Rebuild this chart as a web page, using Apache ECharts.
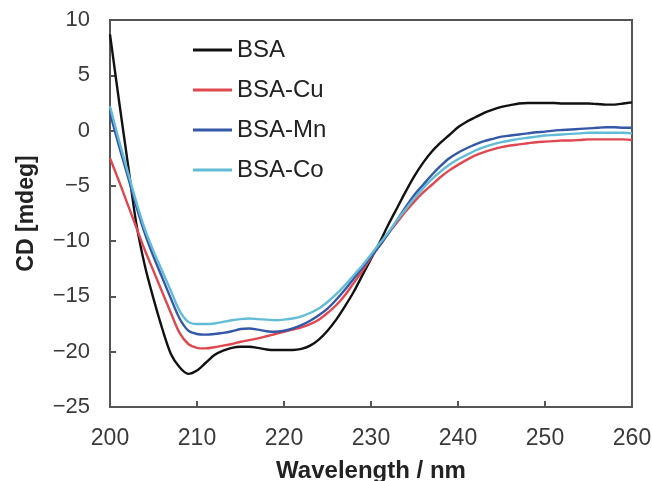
<!DOCTYPE html>
<html>
<head>
<meta charset="utf-8">
<script src="https://cdn.jsdelivr.net/npm/echarts@6/dist/echarts.min.js"></script>
<style>
  html, body { margin: 0; padding: 0; background: #fff; }
  #chart { width: 652px; height: 481px; }
</style>
</head>
<body>
<div id="chart"></div>
<script>
// Wavelength grid (nm), one reading per nanometre
const wavelengths = [];
for (let w = 200; w <= 260; w++) wavelengths.push(w);

const seriesNames = ['BSA', 'BSA-Cu', 'BSA-Mn', 'BSA-Co'];

// CD signal (mdeg) for each sample, 200-260 nm
const cdBSA = [
  8.7, 2.9, -2.7, -8.3, -12.2, -15.2, -17.9, -20.2, -21.4, -22.0,
  -21.7, -21.0, -20.3, -19.9, -19.65, -19.55, -19.55, -19.65, -19.8, -19.85,
  -19.85, -19.85, -19.75, -19.45, -18.9, -18.1, -17.1, -15.9, -14.6, -13.1,
  -11.6, -10.1, -8.5, -7.0, -5.5, -4.1, -2.9, -1.9, -1.1, -0.4,
  0.3, 0.8, 1.2, 1.6, 1.9, 2.15, 2.3, 2.45, 2.5, 2.5,
  2.5, 2.5, 2.45, 2.45, 2.45, 2.45, 2.4, 2.35, 2.35, 2.45,
  2.55
];
const cdCu = [
  -2.5, -4.5, -6.6, -8.7, -10.8, -12.7, -14.6, -16.5, -18.3, -19.3,
  -19.65, -19.7, -19.6, -19.45, -19.3, -19.1, -18.95, -18.8, -18.6, -18.4,
  -18.2, -18.0, -17.8, -17.5, -17.1, -16.5, -15.8, -14.9, -13.8, -12.7,
  -11.5, -10.4, -9.3, -8.3, -7.3, -6.4, -5.6, -4.9, -4.2, -3.6,
  -3.1, -2.65, -2.25, -1.95, -1.7, -1.5, -1.35, -1.25, -1.15, -1.05,
  -1.0, -0.95, -0.9, -0.9, -0.85, -0.8, -0.8, -0.8, -0.8, -0.8,
  -0.85
];
const cdMn = [
  1.6, -1.3, -4.0, -6.8, -9.3, -11.4, -13.3, -15.2, -17.0, -18.1,
  -18.4, -18.45, -18.4, -18.3, -18.15, -17.95, -17.9, -18.0, -18.15, -18.2,
  -18.1, -17.9, -17.6, -17.2, -16.7, -16.1, -15.3, -14.4, -13.4, -12.4,
  -11.4, -10.4, -9.3, -8.1, -6.9, -5.8, -4.9, -4.0, -3.2, -2.5,
  -2.0, -1.6, -1.25, -0.95, -0.75, -0.55, -0.45, -0.35, -0.25, -0.15,
  -0.1, 0.0, 0.05, 0.1, 0.15, 0.2, 0.25, 0.3, 0.3, 0.25,
  0.25
];
const cdCo = [
  2.2, -0.8, -3.6, -6.4, -8.9, -10.9, -12.7, -14.5, -16.3, -17.3,
  -17.5, -17.5, -17.45, -17.3, -17.15, -17.05, -17.0, -17.05, -17.1, -17.15,
  -17.1, -17.0, -16.8, -16.5, -16.1, -15.5, -14.8, -14.0, -13.1, -12.2,
  -11.2, -10.2, -9.2, -8.1, -7.1, -6.1, -5.2, -4.4, -3.7, -3.1,
  -2.6, -2.2, -1.8, -1.5, -1.25, -1.05, -0.9, -0.75, -0.65, -0.55,
  -0.45, -0.4, -0.35, -0.3, -0.25, -0.2, -0.2, -0.2, -0.2, -0.2,
  -0.25
];

const seriesValues = [cdBSA, cdCu, cdMn, cdCo];
const seriesColors = ['#111111', '#e04850', '#3457a8', '#62bcd6'];

const FONT = '"Liberation Sans", Arial, sans-serif';

const chart = echarts.init(document.getElementById('chart'), null, { renderer: 'canvas' });

const series = seriesNames.map((name, i) => ({
  name: name,
  type: 'line',
  symbol: 'none',
  smooth: 0.3,
  data: wavelengths.map((w, j) => [w, seriesValues[i][j]]),
  lineStyle: { color: seriesColors[i], width: 2.4 },
  itemStyle: { color: seriesColors[i] },
  z: 2 + i
}));

const minus = v => String(v).replace('-', '\u2212');

chart.setOption({
  animation: false,
  backgroundColor: '#ffffff',
  grid: {
    left: 110, right: 20, top: 20, bottom: 74,
    outerBoundsMode: 'none',
    containLabel: false,
    show: true, borderColor: '#555', borderWidth: 2, backgroundColor: 'transparent'
  },
  legend: {
    orient: 'vertical',
    left: 193, top: 38,
    padding: 0,
    itemWidth: 39, itemHeight: 3,
    itemGap: 16,
    icon: 'rect',
    textStyle: { fontFamily: FONT, fontSize: 24, color: '#222', lineHeight: 24 },
    data: seriesNames
  },
  xAxis: {
    type: 'value',
    min: 200, max: 260, interval: 10,
    name: 'Wavelength / nm',
    nameLocation: 'middle',
    nameGap: 52,
    nameTextStyle: { fontFamily: FONT, fontSize: 24, fontWeight: 'bold', color: '#222' },
    axisLine: { show: true, onZero: false, lineStyle: { color: '#555', width: 2 } },
    axisTick: { show: true, inside: true, length: 6, lineStyle: { color: '#555', width: 2 } },
    axisLabel: { fontFamily: FONT, fontSize: 23, color: '#3a3a3a', margin: 20 },
    splitLine: { show: false }
  },
  yAxis: {
    type: 'value',
    min: -25, max: 10, interval: 5,
    name: 'CD [mdeg]',
    nameLocation: 'middle',
    nameGap: 72,
    nameTextStyle: { fontFamily: FONT, fontSize: 23, fontWeight: 'bold', color: '#222' },
    axisLine: { show: true, onZero: false, lineStyle: { color: '#555', width: 2 } },
    axisTick: { show: true, inside: true, length: 6, lineStyle: { color: '#555', width: 2 } },
    axisLabel: { fontFamily: FONT, fontSize: 22, color: '#3a3a3a', margin: 20, formatter: minus },
    splitLine: { show: false }
  },
  series: series
});
</script>
</body>
</html>
